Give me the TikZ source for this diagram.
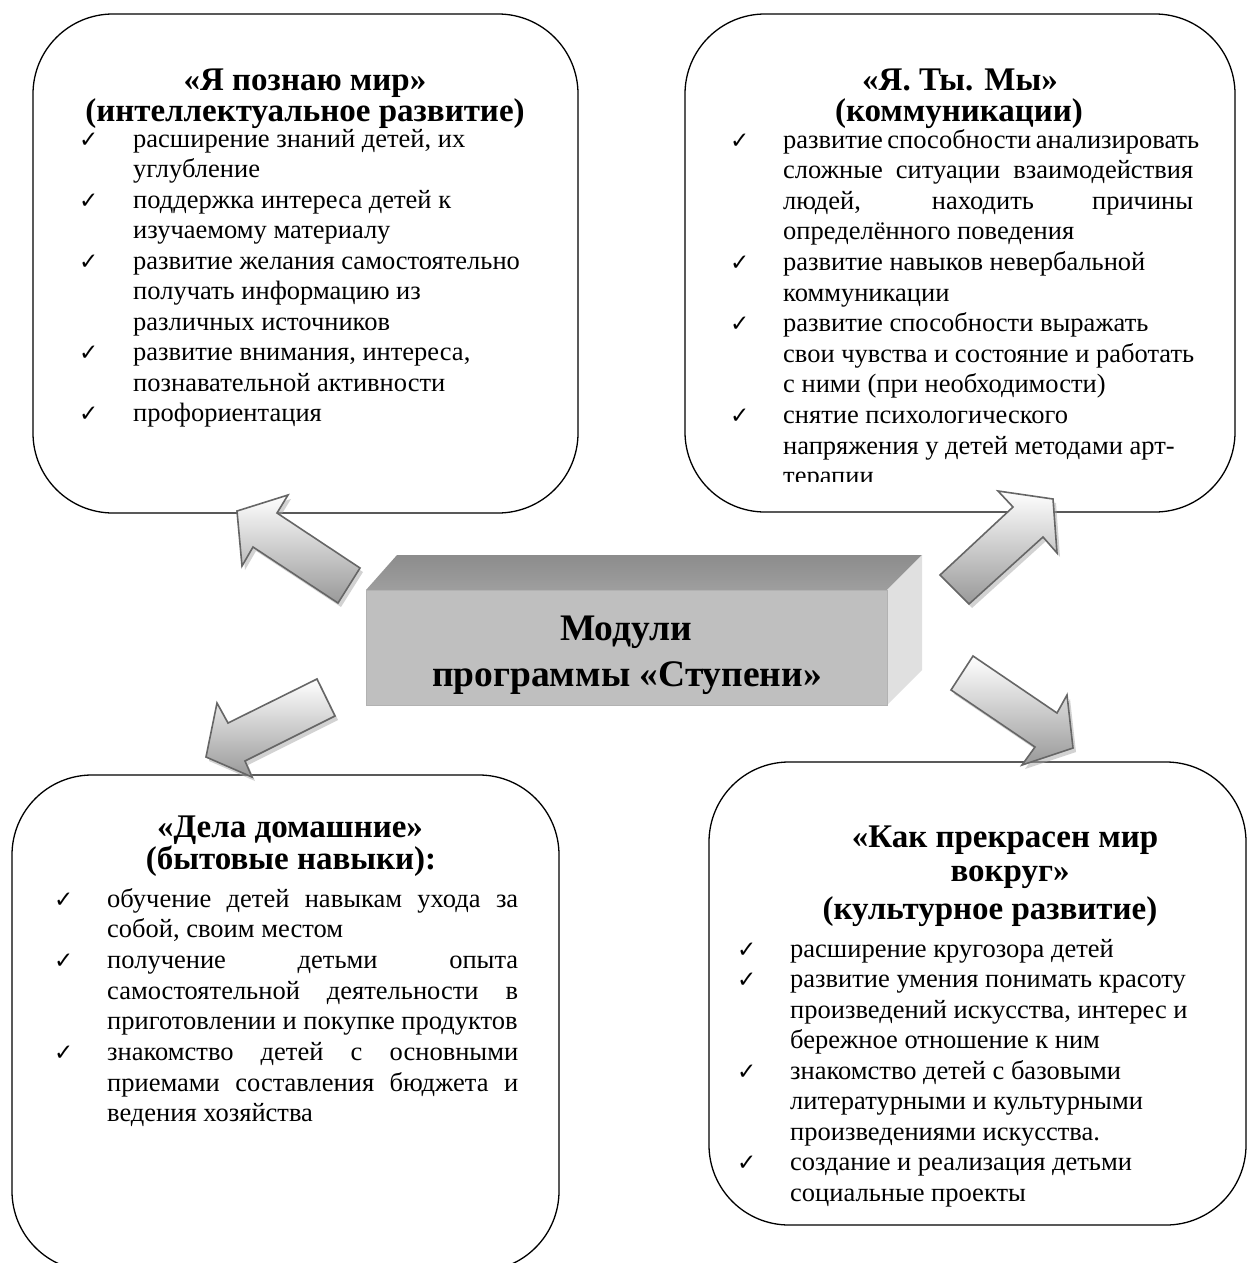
\documentclass[tikz,border=0pt]{standalone}
\usepackage{fontspec}
\setmainfont{Liberation Serif}
\newfontfamily\dejavu{DejaVu Sans}
\newcommand{\tline}[4]{\node[txt] (#1) at (#2,#3) {#4};}
\newcommand{\cmark}[3]{\node[chk] (#1) at (#2,#3) {✓};}
\newcommand{\jst}[2]{{\spaceskip=.25em plus 3em minus .08em\makebox[#1][s]{#2}}}
\begin{document}
\begin{tikzpicture}[x=1pt,y=-1pt,
  mbox/.style={draw=black, line width=1.3pt, rounded corners=80pt},
  ttl/.style={font=\bfseries\fontsize{33}{36}\selectfont, anchor=base, inner sep=0pt},
  txt/.style={font=\fontsize{26.5}{30.5}\selectfont, anchor=base west, inner sep=0pt},
  chk/.style={font=\dejavu\fontsize{23}{23}\selectfont, anchor=base west, inner sep=0pt},
  mtx/.style={font=\bfseries\fontsize{37.5}{44}\selectfont, anchor=base, inner sep=0pt},
  arr/.style={draw=black!60, line width=1.6pt, top color=white, bottom color=black!40, line join=miter},
  shd/.style={fill=black!35, opacity=0.5, draw=none}
]
\useasboundingbox (0,0) rectangle (1248,1263);
\fill[white] (0,0) rectangle (1248,1263);

% ---------- boxes ----------
\draw[mbox] (33,14) rectangle (578,513);
\draw[mbox] (685,14) rectangle (1235,512);
\draw[mbox] (12,775) rectangle (559,1271);
\draw[mbox] (709,762) rectangle (1246,1225);

% ---------- top-left ----------
\node[ttl] (tlt1) at (305,90) {«Я познаю мир»};
\node[ttl] (tlt2) at (305,121) {(интеллектуальное развитие)};
\cmark{tlc0}{79}{147}
\tline{tl0}{133}{147}{расширение знаний детей, их}
\tline{tl1}{133}{177.5}{углубление}
\cmark{tlc2}{79}{208}
\tline{tl2}{133}{208}{поддержка интереса детей к}
\tline{tl3}{133}{238.5}{изучаемому материалу}
\cmark{tlc4}{79}{269}
\tline{tl4}{133}{269}{развитие желания самостоятельно}
\tline{tl5}{133}{299.5}{получать информацию из}
\tline{tl6}{133}{330}{различных источников}
\cmark{tlc7}{79}{360.5}
\tline{tl7}{133}{360.5}{развитие внимания, интереса,}
\tline{tl8}{133}{391}{познавательной активности}
\cmark{tlc9}{79}{421.5}
\tline{tl9}{133}{421.5}{профориентация}

% ---------- top-right ----------
\node[ttl] (trt1) at (960,90) {«Я. Ты. Мы»};
\node[ttl] (trt2) at (959,121) {(коммуникации)};
\begin{scope}
\clip (685,14) rectangle (1235,481);
\cmark{trc0}{730}{148}
\tline{tr0}{783}{148}{\jst{410pt}{развитие способности анализировать}}
\tline{tr1}{783}{178.6}{\jst{410pt}{сложные ситуации взаимодействия}}
\tline{tr2}{783}{209.2}{\jst{410pt}{людей, находить причины}}
\tline{tr3}{783}{239.8}{определённого поведения}
\cmark{trc4}{730}{270.4}
\tline{tr4}{783}{270.4}{развитие навыков невербальной}
\tline{tr5}{783}{301}{коммуникации}
\cmark{trc6}{730}{331.6}
\tline{tr6}{783}{331.6}{развитие способности выражать}
\tline{tr7}{783}{362.2}{свои чувства и состояние и работать}
\tline{tr8}{783}{392.8}{с ними (при необходимости)}
\cmark{trc9}{730}{423.4}
\tline{tr9}{783}{423.4}{снятие психологического}
\tline{tr10}{783}{454}{напряжения у детей методами арт-}
\tline{tr11}{783}{484.6}{терапии}
\end{scope}

% ---------- bottom-left ----------
\node[ttl] (blt1) at (290,837) {«Дела домашние»};
\node[ttl] (blt2) at (291,869) {(бытовые навыки):};
\cmark{blc0}{54}{907}
\tline{bl0}{107}{907}{\jst{411pt}{обучение детей навыкам ухода за}}
\tline{bl1}{107}{937.7}{собой, своим местом}
\cmark{blc2}{54}{968.4}
\tline{bl2}{107}{968.4}{\jst{411pt}{получение детьми опыта}}
\tline{bl3}{107}{999.1}{\jst{411pt}{самостоятельной деятельности в}}
\tline{bl4}{107}{1029.8}{приготовлении и покупке продуктов}
\cmark{blc5}{54}{1060.5}
\tline{bl5}{107}{1060.5}{\jst{411pt}{знакомство детей с основными}}
\tline{bl6}{107}{1091.2}{\jst{411pt}{приемами составления бюджета и}}
\tline{bl7}{107}{1121.9}{ведения хозяйства}

% ---------- bottom-right ----------
\node[ttl] (brt1) at (1005,847) {«Как прекрасен мир};
\node[ttl] (brt2) at (1010,881) {вокруг»};
\node[ttl] (brt3) at (990,919) {(культурное развитие)};
\cmark{brc0}{737}{957}
\tline{br0}{790}{957}{расширение кругозора детей}
\cmark{brc1}{737}{987.5}
\tline{br1}{790}{987.5}{развитие умения понимать красоту}
\tline{br2}{790}{1018}{произведений искусства, интерес и}
\tline{br3}{790}{1048.5}{бережное отношение к ним}
\cmark{brc4}{737}{1079}
\tline{br4}{790}{1079}{знакомство детей с базовыми}
\tline{br5}{790}{1109.5}{литературными и культурными}
\tline{br6}{790}{1140}{произведениями искусства.}
\cmark{brc7}{737}{1170.5}
\tline{br7}{790}{1170.5}{создание и реализация детьми}
\tline{br8}{790}{1201}{социальные проекты}

% ---------- centre block ----------
\shade[top color=black!45, bottom color=black!38] (366,590) -- (397,555) -- (922,555) -- (887,590) -- cycle;
\fill[black!12] (887,590) -- (922,555) -- (922,670) -- (887,705) -- cycle;
\node[fill=black!25, draw=black!30, line width=0.6pt, minimum width=521pt, minimum height=115pt, inner sep=0pt] (front) at (626.5,647.5) {};
\node[mtx] (m1) at (626,640) {Модули};
\node[mtx] (m2) at (627,686) {программы «Ступени»};

% ---------- block arrows ----------
% top-left
\fill[shd,shift={(3,4)}] (237,511) -- (288,495) -- (277,513) -- (360,568) -- (338,603) -- (253,547) -- (242,566) -- cycle;
\path[arr] (237,511) -- (288,495) -- (277,513) -- (360,568) -- (338,603) -- (253,547) -- (242,566) -- cycle;
% top-right
\fill[shd,shift={(3,4)}] (1053,499) -- (998,491) -- (1013,507) -- (940,575) -- (969,604) -- (1043,537) -- (1057,553) -- cycle;
\path[arr] (1053,499) -- (998,491) -- (1013,507) -- (940,575) -- (969,604) -- (1043,537) -- (1057,553) -- cycle;
% bottom-left
\fill[shd,shift={(3,4)}] (206,757) -- (217,703) -- (228,723) -- (317,679) -- (335,716) -- (245,761) -- (252,777) -- cycle;
\path[arr] (206,757) -- (217,703) -- (228,723) -- (317,679) -- (335,716) -- (245,761) -- (252,777) -- cycle;
% bottom-right
\fill[shd,shift={(3,4)}] (1073,748) -- (1067,695) -- (1057,713) -- (973,656) -- (951,690) -- (1035,747) -- (1022,765) -- cycle;
\path[arr] (1073,748) -- (1067,695) -- (1057,713) -- (973,656) -- (951,690) -- (1035,747) -- (1022,765) -- cycle;
\end{tikzpicture}
\end{document}
